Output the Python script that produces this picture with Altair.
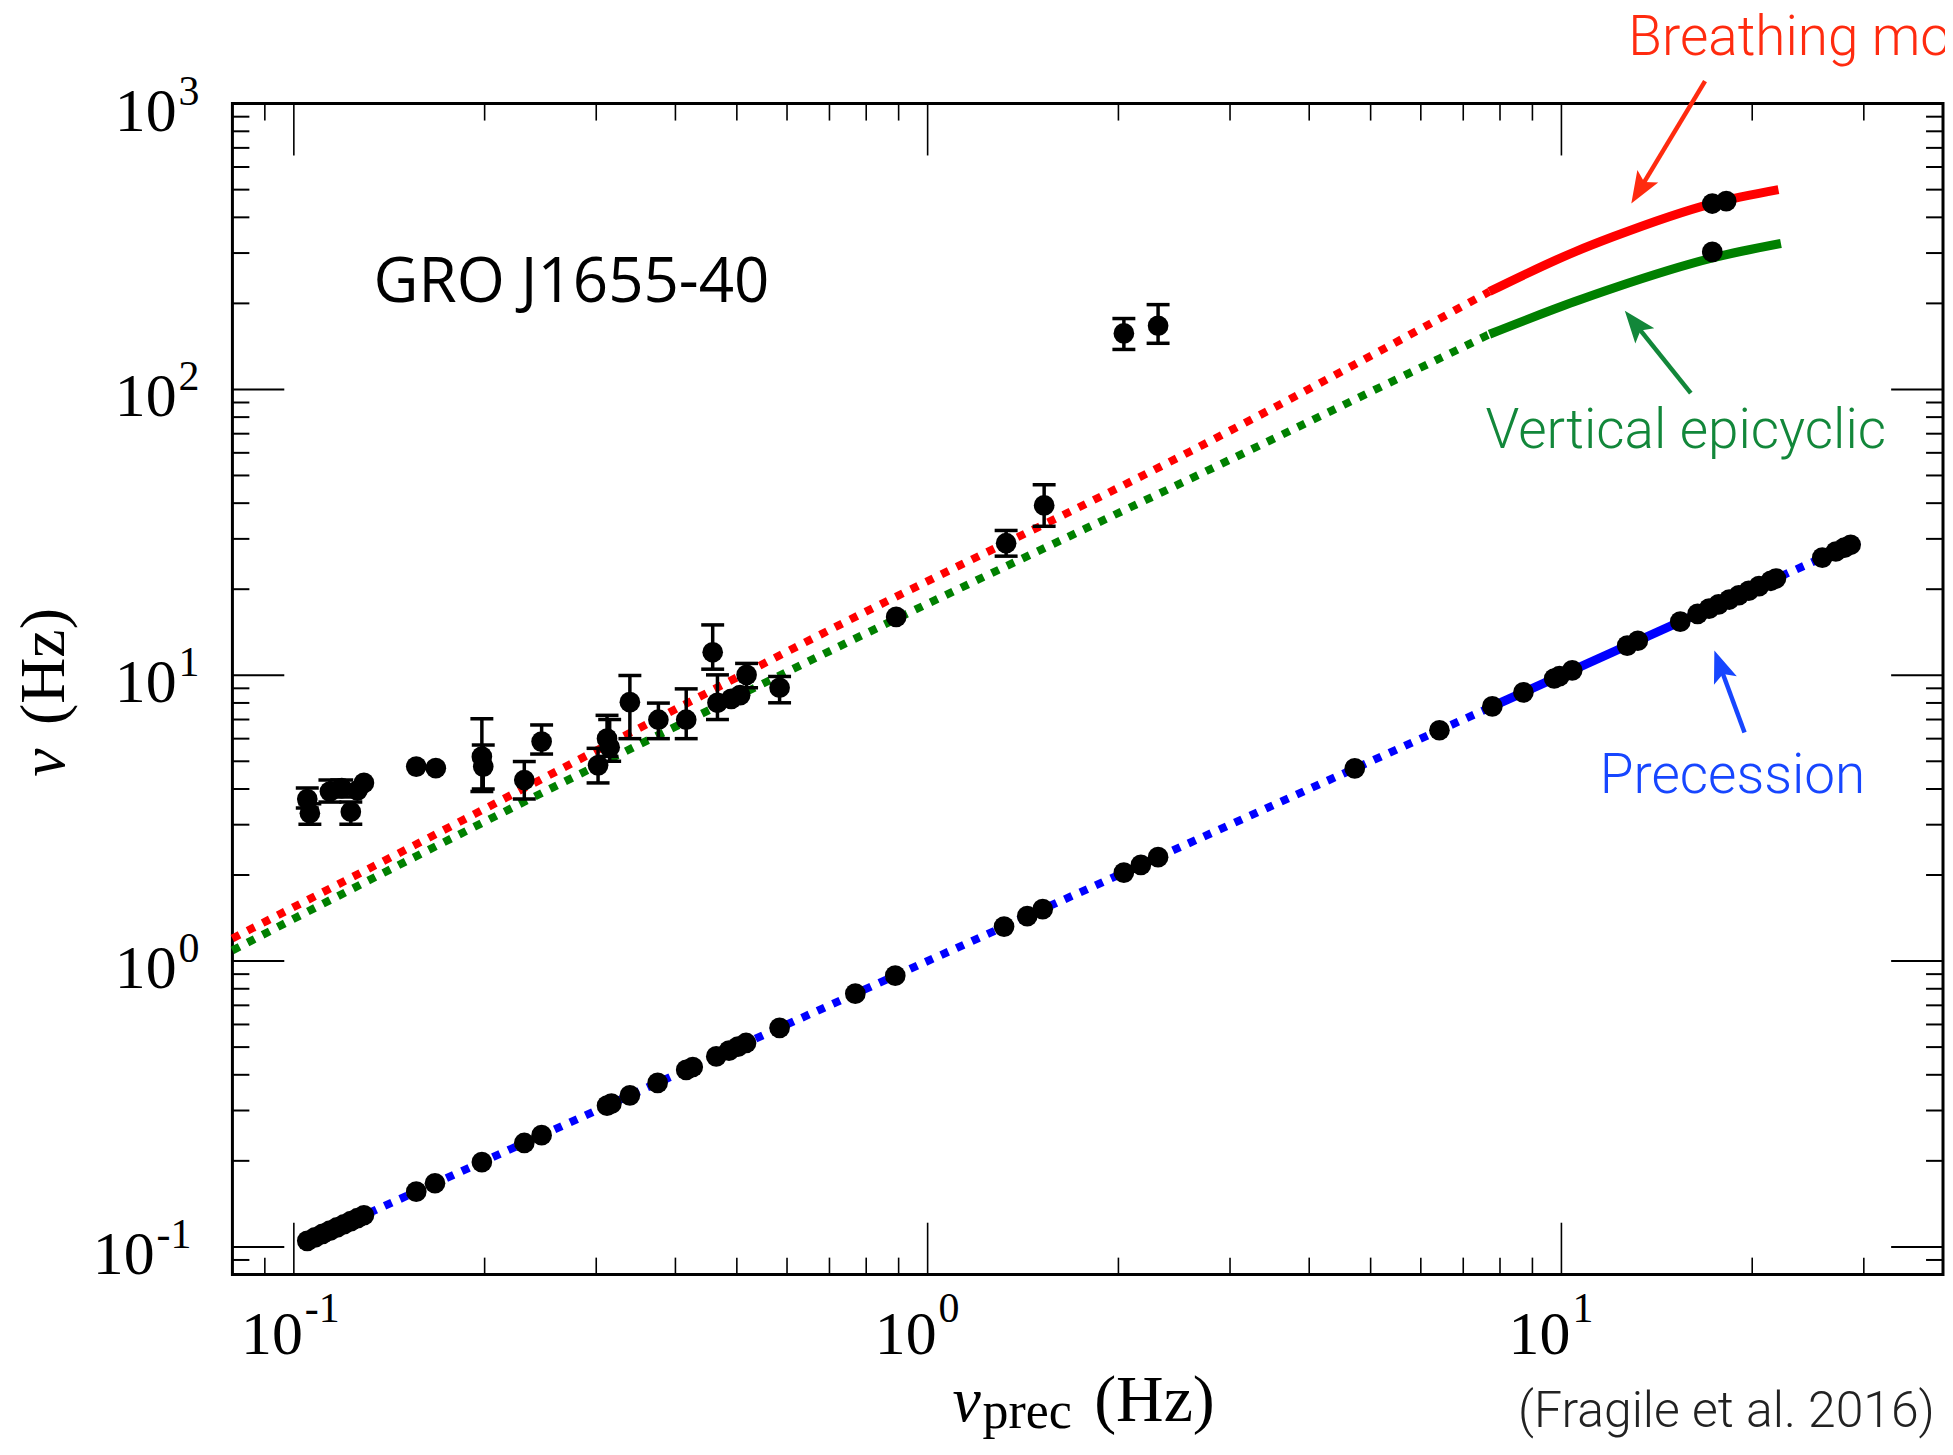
import math
import altair as alt
import pandas as pd

# ---------------- values ----------------
# lower series: precession QPO frequency plotted against itself
prec_x = [0.105, 0.108, 0.111, 0.114, 0.117, 0.120, 0.123, 0.126, 0.129,
          0.156, 0.167, 0.198, 0.231, 0.246, 0.312, 0.317, 0.339, 0.375,
          0.416, 0.426, 0.464, 0.486, 0.502, 0.517, 0.584, 0.769, 0.889,
          1.32, 1.436, 1.519, 2.04, 2.17, 2.31, 4.72, 6.42, 7.78, 8.71,
          9.74, 9.93, 10.4, 12.7, 13.2, 15.4, 16.4, 17.1, 17.7, 18.4,
          19.05, 19.75, 20.5, 21.4, 21.8, 25.8, 27.1, 27.96, 28.6]
prec_y = [0.105, 0.108, 0.111, 0.114, 0.117, 0.120, 0.123, 0.126, 0.129,
          0.156, 0.167, 0.198, 0.231, 0.246, 0.312, 0.317, 0.339, 0.375,
          0.416, 0.426, 0.464, 0.486, 0.502, 0.517, 0.584, 0.769, 0.889,
          1.32, 1.436, 1.519, 2.04, 2.17, 2.31, 4.72, 6.42, 7.78, 8.71,
          9.74, 9.93, 10.4, 12.7, 13.2, 15.4, 16.4, 17.1, 17.7, 18.4,
          19.05, 19.75, 20.5, 21.4, 21.8, 25.8, 27.1, 27.96, 28.6]

# upper series: higher-frequency QPOs (with error bars where visible)
qpo_x = [0.105, 0.106, 0.114, 0.119, 0.123, 0.126, 0.129, 0.156, 0.1675,
         0.198, 0.199, 0.231, 0.246, 0.302, 0.312, 0.315, 0.339, 0.376,
         0.416, 0.458, 0.466, 0.490, 0.506, 0.518, 0.584, 0.892, 1.33,
         1.527, 2.04, 2.31, 17.3, 18.2, 17.3]
qpo_y = [3.69, 3.29, 3.92, 4.03, 3.33, 3.95, 4.20, 4.79, 4.73,
         5.19, 4.79, 4.30, 5.86, 4.84, 6.00, 5.60, 8.05, 6.99,
         6.99, 12.03, 8.01, 8.27, 8.52, 10.03, 9.04, 16.0, 28.97,
         39.3, 157, 167, 447, 456, 303]
qpo_lo = [3.43, 3.01, 3.60, 3.75, 3.01, None, None, None, None,
          3.92, 4.00, 3.69, 5.30, 4.20, 5.20, 5.00, 6.00, 6.00,
          6.00, 10.5, 7.00, None, None, 9.04, 8.01, None, 26.1,
          33.2, 138, 145, None, None, None]
qpo_hi = [4.03, 3.55, 4.30, 4.30, 3.60, None, None, None, None,
          7.04, 5.70, 4.99, 6.70, 5.55, 7.24, 7.00, 9.98, 7.99,
          8.96, 15.0, 10.03, None, None, 11.0, 9.90, None, 32.1,
          46.4, 177, 198, None, None, None]

# model curves
breath_dot_x = [0.08, 0.143, 0.739, 2.60, 7.7]
breath_dot_y = [1.20, 2.32, 15.3, 60.8, 220]
breath_sol_x = [7.7, 10.5, 12.06, 17.3, 22.0]
breath_sol_y = [220, 303, 342, 447, 500]
vert_dot_x = [0.08, 0.143, 0.739, 3.20, 7.7]
vert_dot_y = [1.09, 2.11, 12.87, 60.8, 156]
vert_sol_x = [7.7, 10.5, 12.06, 17.38, 22.2]
vert_sol_y = [156, 203, 226, 289, 324]
precl_dot1_x = [0.105, 7.7]
precl_dot1_y = [0.105, 7.7]
precl_sol_x = [7.7, 22.2]
precl_sol_y = [7.7, 22.2]
precl_dot2_x = [22.2, 29.5]
precl_dot2_y = [22.2, 29.5]

# axes
x_domain = [0.08, 40]
y_domain = [0.08, 1000]
x_major = [0.1, 1, 10]
x_label_exp = ["-1", "0", "1"]
y_major = [0.1, 1, 10, 100, 1000]
y_label_exp = ["-1", "0", "1", "2", "3"]
x_minor = [0.09] + [k / 10 for k in range(2, 10)] + list(range(2, 10)) + [20, 30]
y_minor = [0.09] + [k * d for d in (0.1, 1, 10, 100) for k in range(2, 10)]

# annotations
ann_text = ["Breathing mode", "Vertical epicyclic", "Precession"]
ann_x = [12.75, 7.59, 11.49]
ann_y = [1480, 62.4, 3.86]
ann_color = ["#ff2b0f", "#12873a", "#1746ff"]
src_text = ["GRO J1655-40"]
src_x = [0.1336]
src_y = [203]
arrow_color = ["#ff2b0f", "#12873a", "#1746ff"]
arrow_tail_x = [16.85, 16.0, 19.45]
arrow_tail_y = [1198, 97.1, 6.30]
arrow_tip_x = [12.89, 12.59, 17.43]
arrow_tip_y = [447, 188.3, 12.2]
credit_text = "(Fragile et al. 2016)"
x_title = ["ν", "prec", "(Hz)"]
y_title = ["ν", "(Hz)"]

# ---------------- layout ----------------
W, H = 1715, 1174
ppd_x = W / math.log10(x_domain[1] / x_domain[0])
ppd_y = H / math.log10(y_domain[1] / y_domain[0])

xs = alt.Scale(type="log", domain=x_domain, nice=False)
ys = alt.Scale(type="log", domain=y_domain, nice=False)


def X(f):
    return alt.X(f, type="quantitative", scale=xs, axis=None)


def Y(f):
    return alt.Y(f, type="quantitative", scale=ys, axis=None)


SERIF = "Liberation Serif"
SANS = "Roboto"
layers = []


def curve(xv, yv, color, dashed):
    df = pd.DataFrame({"x": xv, "y": yv})
    if dashed:
        m = alt.Chart(df).mark_line(color=color, strokeWidth=8, strokeDash=[8, 9],
                                    strokeCap="butt", interpolate="monotone")
    else:
        m = alt.Chart(df).mark_line(color=color, strokeWidth=9, strokeCap="butt",
                                    interpolate="monotone")
    return m.encode(x=X("x"), y=Y("y"))


layers += [
    curve(breath_dot_x, breath_dot_y, "#ff0000", True),
    curve(vert_dot_x, vert_dot_y, "#008000", True),
    curve(breath_sol_x, breath_sol_y, "#ff0000", False),
    curve(vert_sol_x, vert_sol_y, "#008000", False),
    curve(precl_dot1_x, precl_dot1_y, "#0000ff", True),
    curve(precl_sol_x, precl_sol_y, "#0000ff", False),
    curve(precl_dot2_x, precl_dot2_y, "#0000ff", True),
]

# error bars
eb = [(x, lo, hi) for x, lo, hi in zip(qpo_x, qpo_lo, qpo_hi) if lo is not None]
eb_df = pd.DataFrame(eb, columns=["x", "lo", "hi"])
caps_df = pd.DataFrame([(x, v) for x, lo, hi in eb for v in (lo, hi)], columns=["x", "v"])
layers.append(alt.Chart(eb_df).mark_rule(color="black", strokeWidth=3.5).encode(
    x=X("x"), y=Y("lo"), y2="hi"))
layers.append(alt.Chart(caps_df).mark_tick(orient="horizontal", color="black", size=23,
                                           thickness=3.5, opacity=1).encode(x=X("x"), y=Y("v")))

# points
pts = pd.DataFrame({"x": prec_x + qpo_x, "y": prec_y + qpo_y})
layers.append(alt.Chart(pts).mark_circle(color="black", size=430, opacity=1).encode(
    x=X("x"), y=Y("y")))

# arrows
ar = []
for c, tx0, ty0, tx1, ty1 in zip(arrow_color, arrow_tail_x, arrow_tail_y, arrow_tip_x, arrow_tip_y):
    dx = (math.log10(tx1) - math.log10(tx0)) * ppd_x
    dy = -(math.log10(ty1) - math.log10(ty0)) * ppd_y
    L = math.hypot(dx, dy)
    f = 1 - 18 / L
    nx = 10 ** (math.log10(tx0) + f * (math.log10(tx1) - math.log10(tx0)))
    ny = 10 ** (math.log10(ty0) + f * (math.log10(ty1) - math.log10(ty0)))
    ang = math.degrees(math.atan2(dx, -dy)) % 360
    ar.append(dict(c=c, x1=tx0, y1=ty0, x2=nx, y2=ny, tx=tx1, ty=ty1, a=ang))
ar_df = pd.DataFrame(ar)
layers.append(alt.Chart(ar_df).mark_rule(strokeWidth=4.5).encode(
    x=X("x1"), y=Y("y1"), x2="x2", y2="y2", color=alt.Color("c:N", scale=None)))
layers.append(alt.Chart(ar_df).mark_point(
    shape="M0,0L0.8,2.1L0,1.65L-0.8,2.1Z", filled=True, size=930, opacity=1, strokeWidth=0
).encode(x=X("tx"), y=Y("ty"), angle=alt.Angle("a:Q", scale=None),
         color=alt.Color("c:N", scale=None)))

# annotation texts
ann_df = pd.DataFrame({"t": ann_text, "x": ann_x, "y": ann_y, "c": ann_color})
layers.append(alt.Chart(ann_df).mark_text(align="left", baseline="alphabetic", font=SANS,
                                          fontWeight=300, fontSize=55).encode(
    x=X("x"), y=Y("y"), text="t:N", color=alt.Color("c:N", scale=None)))
src_df = pd.DataFrame({"t": src_text, "x": src_x, "y": src_y})
layers.append(alt.Chart(src_df).mark_text(align="left", baseline="alphabetic", font="Open Sans",
                                          fontSize=62, color="black").encode(
    x=X("x"), y=Y("y"), text="t:N"))

# tick marks (inside, on all four sides)
for vals, ln in ((x_major, 52), (x_minor, 17)):
    d = pd.DataFrame({"v": vals})
    layers.append(alt.Chart(d).mark_rule(color="black", strokeWidth=1.6).encode(
        x=X("v"), y=alt.value(H), y2=alt.value(H - ln)))
    layers.append(alt.Chart(d).mark_rule(color="black", strokeWidth=1.6).encode(
        x=X("v"), y=alt.value(0), y2=alt.value(ln)))
for vals, ln in ((y_major, 52), (y_minor, 17)):
    d = pd.DataFrame({"v": vals})
    layers.append(alt.Chart(d).mark_rule(color="black", strokeWidth=2).encode(
        y=Y("v"), x=alt.value(0), x2=alt.value(ln)))
    layers.append(alt.Chart(d).mark_rule(color="black", strokeWidth=2).encode(
        y=Y("v"), x=alt.value(W), x2=alt.value(W - ln)))

# tick labels 10^n
xl = pd.DataFrame({"v": x_major, "e": x_label_exp})
layers.append(alt.Chart(xl).mark_text(align="right", baseline="alphabetic", font=SERIF,
                                      fontSize=62, dx=9, color="black").encode(
    x=X("v"), y=alt.value(H + 80), text=alt.value("10")))
layers.append(alt.Chart(xl).mark_text(align="left", baseline="alphabetic", font=SERIF,
                                      fontSize=42, dx=11, color="black").encode(
    x=X("v"), y=alt.value(H + 48), text="e:N"))
yl = pd.DataFrame({"v": y_major, "e": y_label_exp})
ylc = alt.Chart(yl).transform_calculate(
    bx="length(datum.e) > 1 ? -78 : -56", ex="length(datum.e) > 1 ? -76 : -54")
layers.append(ylc.mark_text(align="right", baseline="alphabetic", font=SERIF, fontSize=62,
                            dy=27, color="black").encode(
    x=alt.X("bx:Q", scale=None, axis=None), y=Y("v"), text=alt.value("10")))
layers.append(ylc.mark_text(align="left", baseline="alphabetic", font=SERIF, fontSize=42,
                            dy=1, color="black").encode(
    x=alt.X("ex:Q", scale=None, axis=None), y=Y("v"), text="e:N"))


# axis titles and credit
def ptext(t, px, py, size, style="normal", angle=0, font=SERIF, weight=400, color="black"):
    kw = dict(align="left", baseline="alphabetic", font=font, fontSize=size,
              fontStyle=style, fontWeight=weight, color=color)
    if angle:
        kw["angle"] = angle
    return alt.Chart(pd.DataFrame({"t": [t]})).mark_text(**kw).encode(
        x=alt.value(px), y=alt.value(py), text="t:N")


layers += [
    ptext(x_title[0], 722, 1321, 64, "italic"),
    ptext(x_title[1], 752, 1328, 52),
    ptext(x_title[2], 864, 1321, 66),
    ptext(y_title[0], -169, 675, 64, "italic", 270),
    ptext(y_title[1], -169, 623, 64, "normal", 270),
    ptext(credit_text, 1289, 1327, 50, font=SANS, weight=300, color="#222222"),
]

chart = alt.layer(*layers).properties(
    width=W, height=H,
    autosize=alt.AutoSizeParams(type="none"),
    padding={"left": 225, "top": 94, "right": 2, "bottom": 166},
    background="white",
).configure_view(stroke="black", strokeWidth=3)

chart.save("out.html", embed_options={"renderer": "svg", "actions": False})
